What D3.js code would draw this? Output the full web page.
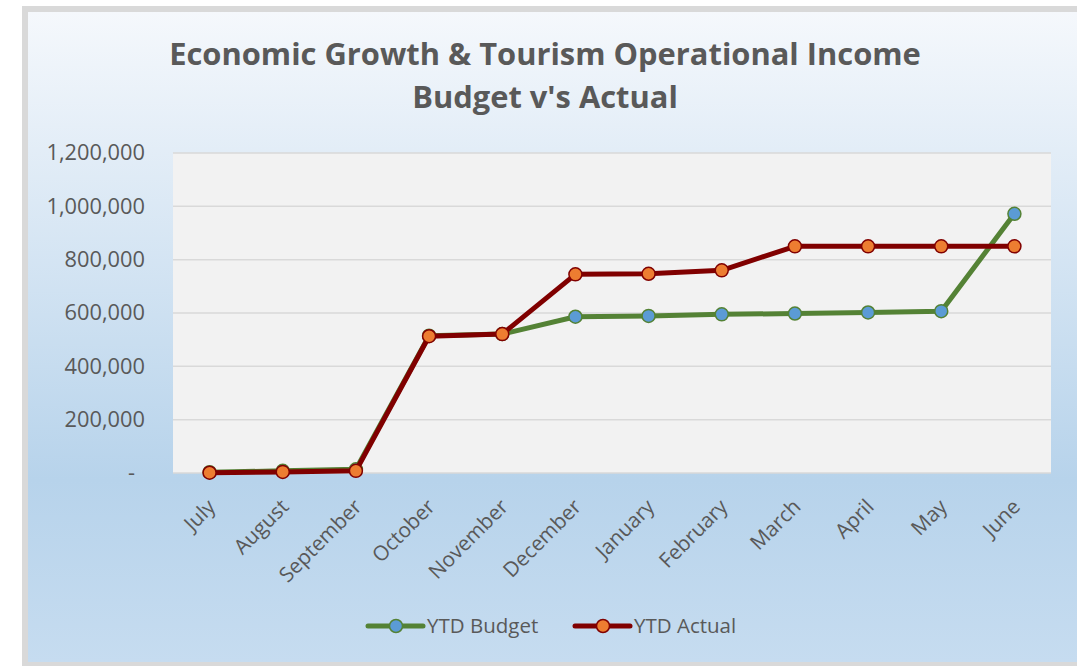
<html>
<head>
<script src="https://d3js.org/d3.v7.min.js"></script>
<style>
body { margin: 0; background: #fff; font-family: 'Open Sans', sans-serif; }
.tick line { display: none; }
.domain { display: none; }
</style>
</head>
<body>
<div id="plot"></div>
<script>

var months = ["July","August","September","October","November","December","January","February","March","April","May","June"];
var budget = [3000, 8000, 14000, 515000, 521000, 586000, 589000, 595000, 598000, 602000, 607000, 972000];
var actual = [1000, 4000, 8000, 513000, 521000, 745000, 747000, 760000, 850000, 850000, 850000, 850000];
var yTicks = [0, 200000, 400000, 600000, 800000, 1000000, 1200000];
var seriesNames = ["YTD Budget", "YTD Actual"];

var width = 1077, height = 666;
var plot = { left: 173, right: 1051, top: 153, bottom: 473 };

var svg = d3.select("#plot").append("svg")
.attr("width", width).attr("height", height);

var defs = svg.append("defs");
var grad = defs.append("linearGradient").attr("id", "bg")
.attr("x1", 0).attr("y1", 0).attr("x2", 0).attr("y2", 1);
grad.append("stop").attr("offset", "0%").attr("stop-color", "#f5f8fc");
grad.append("stop").attr("offset", "72%").attr("stop-color", "#b7d3eb");
grad.append("stop").attr("offset", "100%").attr("stop-color", "#c6dcf0");

// chart frame
svg.append("rect").attr("x", 22).attr("y", 6).attr("width", 1080).attr("height", 662)
.style("fill", "#d9d9d9");
svg.append("rect").attr("x", 28).attr("y", 12).attr("width", 1070).attr("height", 650)
.style("fill", "url(#bg)");

// plot area
svg.append("rect").attr("x", plot.left).attr("y", plot.top)
.attr("width", plot.right - plot.left).attr("height", plot.bottom - plot.top)
.style("fill", "#f2f2f2");

var xScale = d3.scaleBand().domain(months).range([plot.left, plot.right]);
var yScale = d3.scaleLinear().domain([0, 1200000]).range([plot.bottom, plot.top]);

// gridlines
svg.append("g").selectAll("line").data(yTicks).enter().append("line")
.attr("x1", plot.left).attr("x2", plot.right)
.attr("y1", function (d) { return yScale(d); })
.attr("y2", function (d) { return yScale(d); })
.style("stroke", "#d9d9d9").style("stroke-width", 1.5);

// y axis
var yAxis = d3.axisLeft(yScale).tickValues(yTicks).tickSize(0).tickPadding(28)
.tickFormat(function (d) { return d === 0 ? "-" : d3.format(",")(d); });
var yG = svg.append("g").attr("transform", "translate(" + plot.left + ",0)").call(yAxis);
yG.selectAll("text").style("font-family", "'Open Sans', sans-serif")
.style("font-size", "21.8px").style("fill", "#595959")
.attr("x", function (d) { return d === 0 ? -38 : -28; });

// x axis labels
var xG = svg.append("g");
xG.selectAll("text").data(months).enter().append("text")
.attr("transform", function (d) {
  var x = xScale(d) + xScale.bandwidth() / 2 + 2;
  return "translate(" + x + ",503) rotate(-45)";
})
.attr("dy", "0.35em")
.style("text-anchor", "end")
.style("font-size", "20.7px").style("fill", "#595959")
.text(function (d) { return d; });

// lines
var line = d3.line()
.x(function (d, i) { return xScale(months[i]) + xScale.bandwidth() / 2; })
.y(function (d) { return yScale(d); });

var series = [
  { name: seriesNames[0], values: budget, stroke: "#548235", fill: "#5b9bd5" },
  { name: seriesNames[1], values: actual, stroke: "#800000", fill: "#ed7d31" }
];

series.forEach(function (s) {
  svg.append("path").datum(s.values).attr("d", line)
  .style("fill", "none").style("stroke", s.stroke).style("stroke-width", 5)
  .style("stroke-linejoin", "round");
  svg.append("g").selectAll("circle").data(s.values).enter().append("circle")
  .attr("cx", function (d, i) { return xScale(months[i]) + xScale.bandwidth() / 2; })
  .attr("cy", function (d) { return yScale(d); })
  .attr("r", 6.5)
  .style("fill", s.fill).style("stroke", s.stroke).style("stroke-width", 1.5);
});

// title
var title = svg.append("g").style("font-weight", "bold").style("fill", "#595959")
.style("text-anchor", "middle");
var t1 = title.append("text").attr("x", 545).attr("y", 65).style("font-size", "32px")
.text("Economic Growth & Tourism Operational Income");
var fs = 32 * 752 / t1.node().getComputedTextLength();
t1.style("font-size", fs + "px");
title.append("text").attr("x", 545).attr("y", 108).style("font-size", fs + "px")
.text("Budget v's Actual");

// legend
var legendX = [368, 575];
series.forEach(function (s, i) {
  var g = svg.append("g").attr("transform", "translate(" + legendX[i] + ",626)");
  g.append("line").attr("x1", 0).attr("x2", 55)
  .style("stroke", s.stroke).style("stroke-width", 5).style("stroke-linecap", "round");
  g.append("circle").attr("cx", 28).attr("r", 6.5)
  .style("fill", s.fill).style("stroke", s.stroke).style("stroke-width", 1.5);
  g.append("text").attr("x", 59).attr("dy", "0.35em")
  .style("font-size", "20.5px").style("fill", "#595959").text(s.name);
});

</script>
</body>
</html>
